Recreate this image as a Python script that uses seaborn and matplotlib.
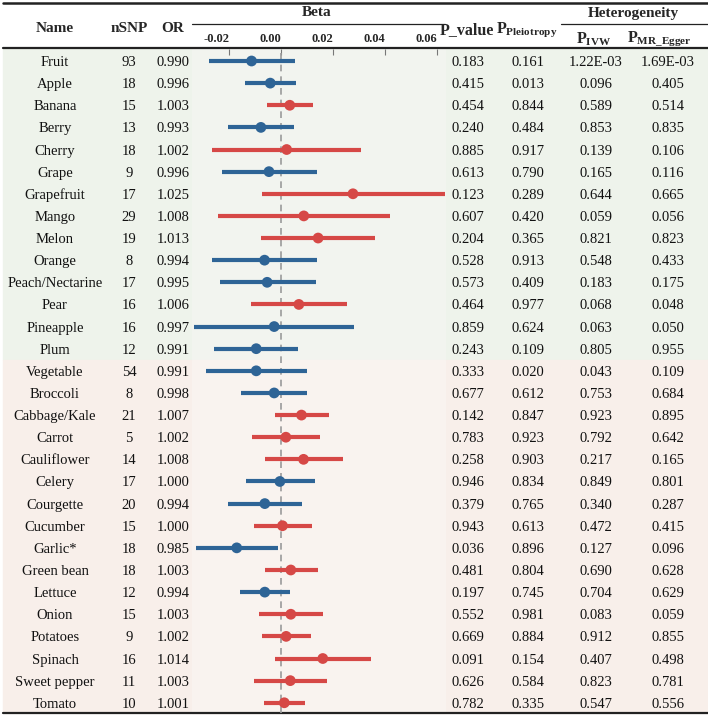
import matplotlib
matplotlib.use("Agg")
import matplotlib.pyplot as plt
from matplotlib.patches import Rectangle
import seaborn as sns
import pandas as pd

names = ["Fruit", "Apple", "Banana", "Berry", "Cherry", "Grape", "Grapefruit", "Mango",
         "Melon", "Orange", "Peach/Nectarine", "Pear", "Pineapple", "Plum",
         "Vegetable", "Broccoli", "Cabbage/Kale", "Carrot", "Cauliflower", "Celery",
         "Courgette", "Cucumber", "Garlic*", "Green bean", "Lettuce", "Onion",
         "Potatoes", "Spinach", "Sweet pepper", "Tomato"]
nsnp = [93, 18, 15, 13, 18, 9, 17, 29, 19, 8, 17, 16, 16, 12,
        54, 8, 21, 5, 14, 17, 20, 15, 18, 18, 12, 15, 9, 16, 11, 10]
odds = ["0.990", "0.996", "1.003", "0.993", "1.002", "0.996", "1.025", "1.008", "1.013",
        "0.994", "0.995", "1.006", "0.997", "0.991", "0.991", "0.998", "1.007", "1.002",
        "1.008", "1.000", "0.994", "1.000", "0.985", "1.003", "0.994", "1.003", "1.002",
        "1.014", "1.003", "1.001"]
beta = [-0.0114, -0.0042, 0.0033, -0.0078, 0.0021, -0.0047, 0.0276, 0.0087, 0.0142,
        -0.0064, -0.0054, 0.0068, -0.0027, -0.0096, -0.0096, -0.0027, 0.0078, 0.0018,
        0.0086, -0.0005, -0.0063, 0.0005, -0.0171, 0.0037, -0.0063, 0.0037, 0.0019,
        0.0160, 0.0035, 0.0012]
lower = [-0.0277, -0.0138, -0.0053, -0.0204, -0.0265, -0.0229, -0.0073, -0.0242, -0.0076,
         -0.0265, -0.0237, -0.0115, -0.0336, -0.0258, -0.0291, -0.0154, -0.0024, -0.0113,
         -0.0062, -0.0137, -0.0206, -0.0106, -0.0329, -0.0064, -0.0160, -0.0085, -0.0072,
         -0.0023, -0.0105, -0.0067]
upper = [0.0053, 0.0058, 0.0121, 0.0051, 0.0306, 0.0136, 0.0630, 0.0418, 0.0362,
         0.0136, 0.0132, 0.0253, 0.0281, 0.0065, 0.0099, 0.0101, 0.0183, 0.0151,
         0.0236, 0.0129, 0.0079, 0.0117, -0.0012, 0.0140, 0.0033, 0.0162, 0.0113,
         0.0345, 0.0176, 0.0091]
p_value = ["0.183", "0.415", "0.454", "0.240", "0.885", "0.613", "0.123", "0.607", "0.204",
           "0.528", "0.573", "0.464", "0.859", "0.243", "0.333", "0.677", "0.142", "0.783",
           "0.258", "0.946", "0.379", "0.943", "0.036", "0.481", "0.197", "0.552", "0.669",
           "0.091", "0.626", "0.782"]
p_pleio = ["0.161", "0.013", "0.844", "0.484", "0.917", "0.790", "0.289", "0.420", "0.365",
           "0.913", "0.409", "0.977", "0.624", "0.109", "0.020", "0.612", "0.847", "0.923",
           "0.903", "0.834", "0.765", "0.613", "0.896", "0.804", "0.745", "0.981", "0.884",
           "0.154", "0.584", "0.335"]
p_ivw = ["1.22E-03", "0.096", "0.589", "0.853", "0.139", "0.165", "0.644", "0.059", "0.821",
         "0.548", "0.183", "0.068", "0.063", "0.805", "0.043", "0.753", "0.923", "0.792",
         "0.217", "0.849", "0.340", "0.472", "0.127", "0.690", "0.704", "0.083", "0.912",
         "0.407", "0.823", "0.547"]
p_egger = ["1.69E-03", "0.405", "0.514", "0.835", "0.106", "0.116", "0.665", "0.056", "0.823",
           "0.433", "0.175", "0.048", "0.050", "0.955", "0.109", "0.684", "0.895", "0.642",
           "0.165", "0.801", "0.287", "0.415", "0.096", "0.628", "0.629", "0.059", "0.855",
           "0.498", "0.781", "0.556"]
tick_vals = [-0.02, 0.0, 0.02, 0.04, 0.06]
tick_labels = ["-0.02", "0.00", "0.02", "0.04", "0.06"]
n_fruit = 14

df = pd.DataFrame({"name": names, "beta": beta, "lower": lower, "upper": upper})
df["row"] = range(len(df))
df["dir"] = ["neg" if b < 0 else "pos" for b in beta]

sns.set_style("white")
plt.rcParams["font.family"] = ["Liberation Serif", "DejaVu Serif"]
plt.rcParams["mathtext.fontset"] = "custom"
plt.rcParams["mathtext.rm"] = "Liberation Serif"
plt.rcParams["mathtext.bf"] = "Liberation Serif:bold"
plt.rcParams["mathtext.it"] = "Liberation Serif:italic"

W, H = 708, 722
y0, dy = 61.0, 22.13
top_bg, bot_bg = 49.0, 712.7
fx0, fx1 = 192, 445
xlo, xhi = -0.0343, 0.063
colors = {"neg": "#2E6496", "pos": "#D64846"}

fig = plt.figure(figsize=(W / 100, H / 100), dpi=100)
tab = fig.add_axes([0, 0, 1, 1])
tab.set_xlim(0, W)
tab.set_ylim(H, 0)
tab.axis("off")

# section backgrounds
split = y0 + dy * (n_fruit - 0.5)
tab.add_patch(Rectangle((3, top_bg), W - 3, split - top_bg, color="#EEF3EB", zorder=0))
tab.add_patch(Rectangle((3, split), W - 3, bot_bg - split, color="#F8EFEA", zorder=0))
tab.add_patch(Rectangle((fx0, top_bg), fx1 - fx0, split - top_bg, color="#F2F4EF", zorder=0))
tab.add_patch(Rectangle((fx0, split), fx1 - fx0, bot_bg - split, color="#F9F3EF", zorder=0))

# rules
tab.plot([3, W], [3.3, 3.3], color="#222222", lw=1.8)
tab.plot([3, W], [48, 48], color="#222222", lw=1.6)
tab.plot([3, W], [713, 713], color="#222222", lw=1.6)
tab.plot([fx0, fx1], [24, 24], color="#222222", lw=0.9)
tab.plot([561, W], [24, 24], color="#222222", lw=0.9)

# header
hfont = dict(fontsize=11, fontweight="bold", ha="center", va="center")
tab.text(55, 28, "Name", **hfont)
tab.text(129, 28, "nSNP", **hfont)
tab.text(173, 28, "OR", **hfont)
tab.text(317, 13, "Beta", **hfont)
tab.text(467, 30, "P_value", fontsize=11.5, fontweight="bold", ha="center", va="center")
tab.text(527, 30, r"$\mathbf{P}_{\mathbf{Pleiotropy}}$", fontsize=11.5, ha="center", va="center")
tab.text(633, 13, "Heterogeneity", **hfont)
tab.text(594, 39, r"$\mathbf{P}_{\mathbf{IVW}}$", fontsize=11.5, ha="center", va="center")
tab.text(659, 39, r"$\mathbf{P}_{\mathbf{MR\_Egger}}$", fontsize=11.5, ha="center", va="center")

# table body
cols = [(55, names), (129, nsnp), (173, odds), (468, p_value), (528, p_pleio),
        (596, p_ivw), (668, p_egger)]
for i in range(len(names)):
    yb = y0 + dy * i + 5
    for x, vals in cols:
        tab.text(x, yb, str(vals[i]), fontsize=10.5, ha="center", va="baseline", color="#111111")

# forest panel
ax = fig.add_axes([fx0 / W, 1 - bot_bg / H, (fx1 - fx0) / W, (bot_bg - top_bg) / H])
ax.patch.set_alpha(0)
ax.axvline(0, color="#9A9A9A", lw=1.2, ls=(0, (4, 3)), zorder=1)
ax.hlines(df["row"], df["lower"], df["upper"],
          colors=[colors[d] for d in df["dir"]], lw=3, zorder=2)
sns.scatterplot(data=df, x="beta", y="row", hue="dir", palette=colors, s=60,
                edgecolor="none", legend=False, ax=ax, zorder=3)
ax.set_xlim(xlo, xhi)
ax.set_ylim((bot_bg - y0) / dy, (top_bg - y0) / dy)
ax.xaxis.tick_top()
ax.set_xticks(tick_vals)
ax.set_xticklabels(tick_labels, fontsize=9, fontweight="bold", ha="right")
ax.tick_params(axis="x", direction="in", length=4, width=0.8, color="#777777", pad=3)
ax.set_yticks([])
ax.set_xlabel("")
ax.set_ylabel("")
for s in ax.spines.values():
    s.set_visible(False)

plt.savefig("out.png", dpi=100)
